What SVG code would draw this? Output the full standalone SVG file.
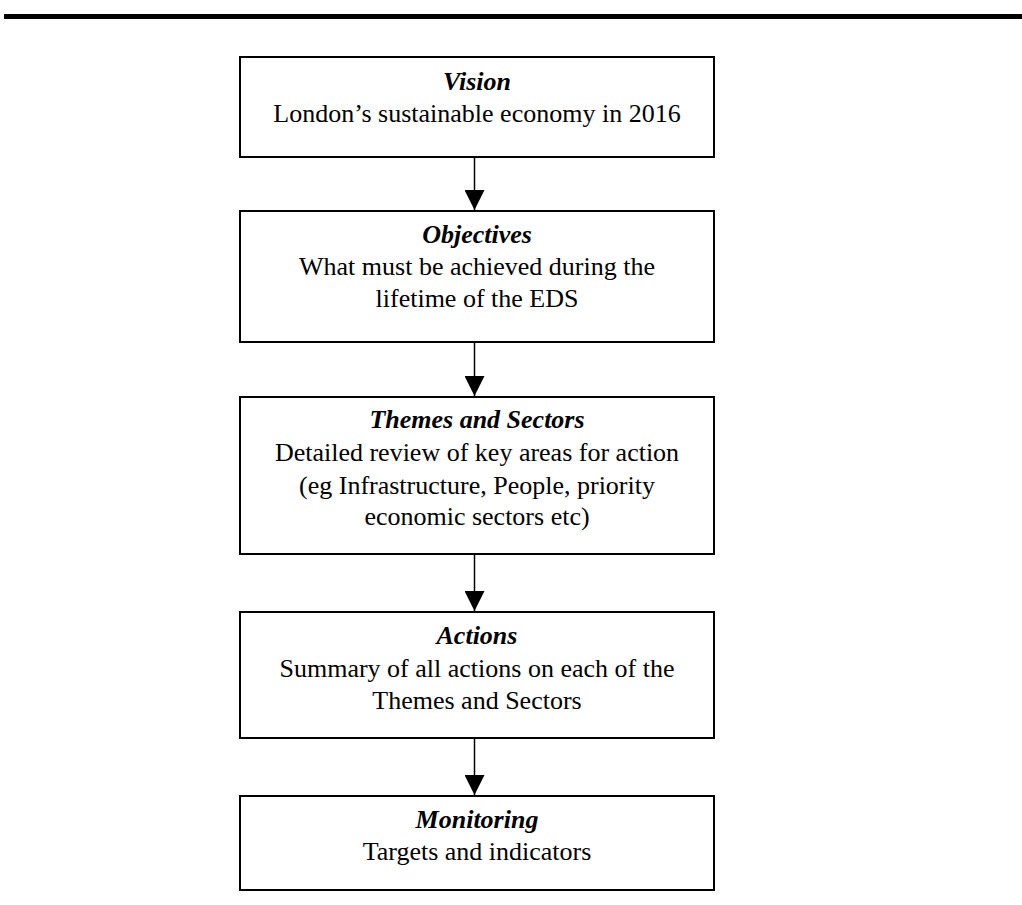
<svg xmlns="http://www.w3.org/2000/svg" width="1022" height="905" viewBox="0 0 1022 905">
<style>
.box{fill:#fff;stroke:#000;stroke-width:2}
.t{font-family:"Liberation Serif","Times New Roman",serif;font-size:26px;fill:#000;text-anchor:middle}
.h{font-style:italic;font-weight:bold}
.c{stroke:#000;stroke-width:1.5;fill:none}
</style>
<defs>
<marker id="ah" markerWidth="20" markerHeight="20" refX="20" refY="10" orient="auto" markerUnits="userSpaceOnUse" viewBox="0 0 20 20">
<path d="M0,0 L20,10 L0,20 Z" fill="#000"/>
</marker>
</defs>
<rect x="4" y="14" width="1018" height="5" fill="#000"/>
<g id="connectors">
<line class="c" x1="474.5" y1="157" x2="474.5" y2="210" marker-end="url(#ah)"/>
<line class="c" x1="474.5" y1="342" x2="474.5" y2="396" marker-end="url(#ah)"/>
<line class="c" x1="474.5" y1="554" x2="474.5" y2="611" marker-end="url(#ah)"/>
<line class="c" x1="474.5" y1="738" x2="474.5" y2="795" marker-end="url(#ah)"/>
</g>
<g id="vision">
<rect class="box" x="240" y="57" width="474" height="100"/>
<text class="t h" x="477" y="90">Vision</text>
<text class="t" x="477" y="121.7">London’s sustainable economy in 2016</text>
</g>
<g id="objectives">
<rect class="box" x="240" y="211" width="474" height="131"/>
<text class="t h" x="477" y="243">Objectives</text>
<text class="t" x="477" y="275">What must be achieved during the</text>
<text class="t" x="477" y="306.7">lifetime of the EDS</text>
</g>
<g id="themes">
<rect class="box" x="240" y="397" width="474" height="157"/>
<text class="t h" x="477" y="428.3">Themes and Sectors</text>
<text class="t" x="477" y="461">Detailed review of key areas for action</text>
<text class="t" x="477" y="493.5">(eg Infrastructure, People, priority</text>
<text class="t" x="477" y="525">economic sectors etc)</text>
</g>
<g id="actions">
<rect class="box" x="240" y="612" width="474" height="126"/>
<text class="t h" x="477" y="644">Actions</text>
<text class="t" x="477" y="677">Summary of all actions on each of the</text>
<text class="t" x="477" y="708.5">Themes and Sectors</text>
</g>
<g id="monitoring">
<rect class="box" x="240" y="796" width="474" height="94"/>
<text class="t h" x="477" y="828">Monitoring</text>
<text class="t" x="477" y="860">Targets and indicators</text>
</g>
</svg>
